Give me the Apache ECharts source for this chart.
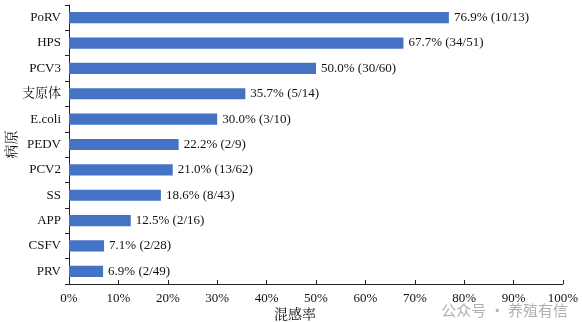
<!DOCTYPE html>
<html>
<head>
<meta charset="utf-8">
<script src="https://cdn.jsdelivr.net/npm/echarts@6/dist/echarts.min.js"></script>
<style>
  html, body { margin: 0; padding: 0; background: #fff; }
  #chart { width: 582px; height: 322px; }
</style>
</head>
<body>
<div id="chart"></div>
<script>
// Pathogens, listed bottom-to-top as drawn on the category axis
const pathogens = ['PRV', 'CSFV', 'APP', 'SS', 'PCV2', 'PEDV', 'E.coli', '支原体', 'PCV3', 'HPS', 'PoRV'];
// Co-infection rate (%)
const rates = [6.9, 7.1, 12.5, 18.6, 21.0, 22.2, 30.0, 35.7, 50.0, 67.7, 76.9];
// Positive / total counts
const counts = ['2/49', '2/28', '2/16', '8/43', '13/62', '2/9', '3/10', '5/14', '30/60', '34/51', '10/13'];
const xTicks = [0, 10, 20, 30, 40, 50, 60, 70, 80, 90, 100];

const serif = '"Liberation Serif", "Times New Roman", "Noto Serif CJK SC", "Noto Sans CJK SC", serif';
const chart = echarts.init(document.getElementById('chart'));

chart.setOption({
  animation: false,
  textStyle: { fontFamily: serif },
  grid: { left: 69, right: 19, top: 5, bottom: 38, containLabel: false, outerBoundsMode: 'none' },
  xAxis: {
    type: 'value',
    min: xTicks[0],
    max: xTicks[xTicks.length - 1],
    interval: 10,
    name: '混感率',
    nameLocation: 'middle',
    nameGap: 24,
    nameMoveOverlap: false,
    nameTextStyle: { fontFamily: serif, fontSize: 14, color: '#111', padding: [0, 42, 0, 0] },
    axisLine: { show: true, lineStyle: { color: '#222', width: 1 } },
    axisTick: { show: true, inside: true, length: 4, lineStyle: { color: '#222' } },
    axisLabel: { formatter: v => v + '%', fontFamily: serif, fontSize: 13, color: '#111', margin: 8 },
    splitLine: { show: false }
  },
  yAxis: {
    type: 'category',
    data: pathogens,
    name: '病原',
    nameLocation: 'middle',
    nameRotate: 90,
    nameGap: 50,
    nameMoveOverlap: false,
    nameTextStyle: { fontFamily: serif, fontSize: 14, color: '#111' },
    axisLine: { show: true, lineStyle: { color: '#222', width: 1 } },
    axisTick: { show: true, length: 4, lineStyle: { color: '#222' } },
    axisLabel: { fontFamily: serif, fontSize: 13, color: '#111', margin: 8 },
    splitLine: { show: false }
  },
  series: [{
    type: 'bar',
    data: rates,
    barWidth: '44%',
    itemStyle: { color: '#4472C4' },
    label: {
      show: true,
      position: 'right',
      distance: 5,
      fontFamily: serif,
      fontSize: 13,
      color: '#111',
      formatter: p => p.value.toFixed(1) + '% (' + counts[p.dataIndex] + ')'
    }
  }],
  graphic: [{
    type: 'text',
    right: 14,
    bottom: 4,
    style: {
      text: '公众号 · 养殖有信',
      font: '15px "Noto Sans CJK SC", sans-serif',
      fill: 'rgba(150,150,150,0.75)'
    }
  }]
});
</script>
</body>
</html>
